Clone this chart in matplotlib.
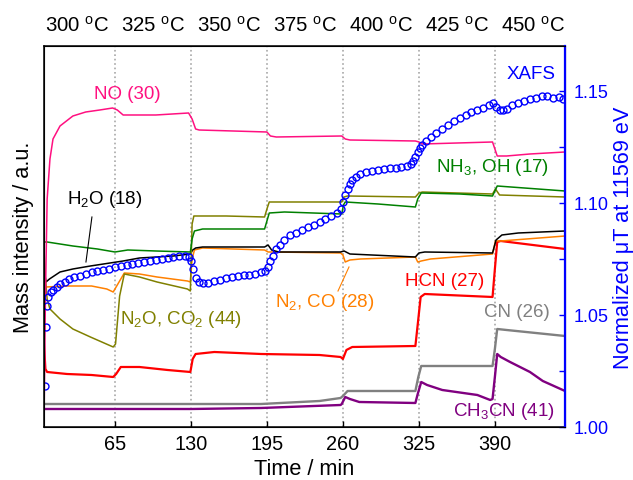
import matplotlib
matplotlib.use("Agg")
import matplotlib.pyplot as plt
from matplotlib.transforms import blended_transform_factory

plt.rcParams["font.family"] = "Liberation Sans"
plt.rcParams["mathtext.fontset"] = "custom"
plt.rcParams["mathtext.rm"] = "Liberation Sans"
plt.rcParams["mathtext.it"] = "Liberation Sans:italic"
plt.rcParams["mathtext.bf"] = "Liberation Sans:bold"

# ==========================
# Data
# ==========================
temps = [300, 325, 350, 375, 400, 425, 450]
step_times = [65, 130, 195, 260, 325, 390]

# mass signals, arbitrary units
no_t = [4.3, 5.5, 7, 9.4, 12, 18, 29, 40, 52, 63, 67, 72, 100, 128, 131, 134, 137, 195, 198, 203,
        259, 262, 266, 322, 325, 328, 388, 390, 392, 400, 420, 450]
no_v = [0.03, 1.28, 2.28, 2.68, 2.88, 3.01, 3.11, 3.15, 3.17, 3.19, 3.17, 3.12, 3.12, 3.14, 3.08, 2.98, 2.97, 2.95, 2.91, 2.90,
        2.91, 2.88, 2.87, 2.86, 2.85, 2.83, 2.85, 2.78, 2.71, 2.71, 2.73, 2.75]

nh3_t = [4.3, 7, 29, 50, 65, 76, 100, 129.5, 131, 133, 140, 193, 195, 197, 210, 259, 260.5, 262, 290,
         322, 324, 327, 360, 388, 390, 392, 450]
nh3_v = [1.85, 1.85, 1.81, 1.78, 1.75, 1.77, 1.76, 1.75, 1.88, 1.96, 1.98, 1.98, 2.06, 2.14, 2.15, 2.13, 2.22, 2.25, 2.23,
         2.20, 2.28, 2.34, 2.33, 2.31, 2.36, 2.41, 2.36]

n2o_t = [4.3, 5.5, 7, 9.4, 18, 29, 44, 63.5, 65.5, 69, 73, 86, 101, 127, 129.5, 131, 132.5, 160, 193, 195,
         197, 259, 261, 264, 322, 325, 328, 388, 390.5, 394, 450]
n2o_v = [1.78, 1.48, 1.28, 1.18, 1.08, 0.98, 0.90, 0.80, 0.83, 1.31, 1.53, 1.50, 1.45, 1.38, 1.36, 2.03, 2.11, 2.11, 2.10, 2.18,
         2.25, 2.25, 2.30, 2.31, 2.30, 2.34, 2.35, 2.33, 2.38, 2.32, 2.30]

h2o_t = [4.3, 6, 9, 18, 29, 44, 72, 86, 115, 129.5, 131.5, 134, 140, 193, 196, 199, 205, 258, 261, 266,
         322, 325, 330, 388, 391, 396, 410, 450]
h2o_v = [1.58, 1.45, 1.48, 1.55, 1.58, 1.61, 1.66, 1.69, 1.71, 1.73, 1.77, 1.79, 1.80, 1.80, 1.82, 1.77, 1.75, 1.75, 1.76, 1.73,
         1.70, 1.74, 1.75, 1.74, 1.87, 1.92, 1.94, 1.96]

n2co_t = [4.3, 6, 24, 45, 58, 63.5, 66, 69, 73, 86, 101, 127, 129.5, 131, 133, 140, 193, 196, 200, 258,
          260, 262, 266, 275, 322, 324, 327, 335, 388, 390.5, 395, 450]
n2co_v = [1.58, 1.40, 1.41, 1.41, 1.38, 1.35, 1.40, 1.46, 1.54, 1.53, 1.50, 1.46, 1.45, 1.68, 1.77, 1.79, 1.77, 1.75, 1.75, 1.74,
          1.72, 1.65, 1.67, 1.68, 1.70, 1.65, 1.66, 1.68, 1.73, 1.86, 1.86, 1.91]

hcn_t = [4.3, 5.5, 7, 24, 45, 63.5, 66, 70, 86, 110, 129.5, 131.5, 134, 150, 190, 240, 258, 260, 263, 268,
         322, 324.5, 326.5, 330, 388, 390, 392, 395, 450]
hcn_v = [0.83, 0.58, 0.55, 0.53, 0.52, 0.50, 0.53, 0.60, 0.60, 0.57, 0.55, 0.68, 0.73, 0.75, 0.73, 0.72, 0.70, 0.68, 0.77, 0.80,
         0.81, 1.08, 1.30, 1.33, 1.30, 1.58, 1.85, 1.86, 1.78]

cn_t = [4.3, 60, 130, 190, 240, 258, 260, 264, 322, 324.5, 327, 388, 390, 392, 400, 450]
cn_v = [0.23, 0.23, 0.23, 0.23, 0.26, 0.29, 0.31, 0.36, 0.36, 0.50, 0.61, 0.61, 0.78, 0.98, 0.97, 0.91]

ch3cn_t = [4.3, 130, 190, 258, 259, 262, 266, 274, 322, 324, 327, 332, 345, 375, 386, 388, 390, 392, 395, 403,
           420, 431, 450]
ch3cn_v = [0.18, 0.18, 0.19, 0.22, 0.23, 0.30, 0.28, 0.25, 0.24, 0.33, 0.45, 0.42, 0.37, 0.32, 0.27, 0.28, 0.50, 0.73, 0.70, 0.65,
           0.55, 0.46, 0.36]

# XAFS, normalized uT
xafs_t = [5.0, 5.9, 6.8, 8, 10, 12, 15, 18, 22, 26, 30, 35, 40, 45, 50, 55, 60, 65, 70, 75,
          80, 85, 90, 95, 100, 105, 110, 115, 120, 125, 128, 130, 132, 134, 137, 140, 145, 150, 155, 160,
          165, 170, 175, 180, 185, 190, 193, 196, 198, 200, 203, 206, 210, 215, 220, 225, 230, 235, 240, 245,
          250, 255, 258, 260, 262, 264, 266, 268, 271, 275, 280, 285, 290, 295, 300, 305, 310, 315, 318, 320,
          322, 324, 326, 328, 331, 335, 340, 345, 350, 355, 360, 365, 370, 375, 380, 385, 388, 391, 394, 397,
          400, 405, 410, 415, 420, 425, 430, 435, 440, 445, 448]
xafs_v = [1.0183, 1.0447, 1.0540, 1.0580, 1.0603, 1.0612, 1.0625, 1.0639, 1.0647, 1.0661,
          1.0670, 1.0674, 1.0683, 1.0692, 1.0696, 1.0701, 1.0705, 1.0714, 1.0719, 1.0723,
          1.0728, 1.0732, 1.0737, 1.0741, 1.0746, 1.0750, 1.0754, 1.0759, 1.0763, 1.0763,
          1.0759, 1.0741, 1.0705, 1.0665, 1.0647, 1.0643, 1.0643, 1.0652, 1.0656, 1.0665,
          1.0670, 1.0674, 1.0679, 1.0679, 1.0683, 1.0692, 1.0696, 1.0714, 1.0741, 1.0763,
          1.0795, 1.0812, 1.0835, 1.0857, 1.0866, 1.0879, 1.0893, 1.0902, 1.0915, 1.0928,
          1.0942, 1.0955, 1.0973, 1.1004, 1.1035, 1.1062, 1.1085, 1.1102, 1.1116, 1.1129,
          1.1138, 1.1142, 1.1147, 1.1151, 1.1156, 1.1156, 1.1160, 1.1165, 1.1174, 1.1187,
          1.1205, 1.1227, 1.1245, 1.1258, 1.1276, 1.1294, 1.1312, 1.1330, 1.1348, 1.1365,
          1.1379, 1.1392, 1.1406, 1.1415, 1.1423, 1.1437, 1.1446, 1.1428, 1.1415, 1.1415,
          1.1419, 1.1437, 1.1446, 1.1455, 1.1464, 1.1468, 1.1477, 1.1477, 1.1468, 1.1473,
          1.1464]

# ==========================
# Figure
# ==========================
fig, ax = plt.subplots(figsize=(6.33, 4.81), dpi=100)
fig.subplots_adjust(left=0.0695, right=0.8926, bottom=0.1102, top=0.9023)

for t in step_times:
    ax.axvline(t, color="#a8a8a8", ls=":", lw=1.2, zorder=0)

ax.plot(cn_t, cn_v, color="#808080", lw=1.7)
ax.plot(ch3cn_t, ch3cn_v, color="#800080", lw=1.7)
ax.plot(hcn_t, hcn_v, color="#ff0000", lw=1.6)
ax.plot(n2co_t, n2co_v, color="#ff8000", lw=1.1)
ax.plot(h2o_t, h2o_v, color="black", lw=1.1)
ax.plot(n2o_t, n2o_v, color="#808000", lw=1.1)
ax.plot(nh3_t, nh3_v, color="#008000", lw=1.1)
ax.plot(no_t, no_v, color="#ff1080", lw=1.1)

ax.set_xlim(4.3, 450)
ax.set_ylim(0, 3.81)
ax.set_xticks(step_times)
ax.set_yticks([])
ax.tick_params(axis="x", direction="in", length=4, width=1, labelsize=14.3, pad=5)
ax.set_xlabel("Time / min", fontsize=15.7)
ax.set_ylabel("Mass intensity / a.u.", fontsize=15.7, labelpad=7)
for s in ["left", "top", "bottom"]:
    ax.spines[s].set_linewidth(1.1)

# temperature labels above the plot
trans = blended_transform_factory(ax.transData, ax.transAxes)
for i, temp in enumerate(temps):
    ax.text(32.5 + 65 * i, 1.056, f"{temp} $^{{\\mathrm{{o}}}}$C", transform=trans,
            ha="center", va="center", fontsize=14.7)

# labels for each signal
fs = 13.5
ax.text(75.3, 3.33, "NO (30)", color="#ff1080", fontsize=fs, ha="center", va="center")
ax.text(56.5, 2.28, "H$_2$O (18)", color="black", fontsize=fs, ha="center", va="center")
ax.plot([45.3, 40.2], [2.10, 1.65], color="black", lw=0.8)
ax.text(121.5, 1.08, "N$_2$O, CO$_2$ (44)", color="#808000", fontsize=fs, ha="center", va="center")
ax.text(244.7, 1.25, "N$_2$, CO (28)", color="#ff8000", fontsize=fs, ha="center", va="center")
ax.plot([265.2, 255.8], [1.60, 1.36], color="#ff8000", lw=0.8)
ax.text(347.3, 1.46, "HCN (27)", color="#ff0000", fontsize=fs, ha="center", va="center")
ax.text(408.9, 1.15, "CN (26)", color="#808080", fontsize=fs, ha="center", va="center")
ax.text(397.8, 0.16, "CH$_3$CN (41)", color="#800080", fontsize=fs, ha="center", va="center")
ax.text(388.4, 2.60, "NH$_3$, OH (17)", color="#008000", fontsize=fs, ha="center", va="center")
ax.text(420.9, 3.53, "XAFS", color="blue", fontsize=fs, ha="center", va="center")

# XAFS on the right axis
ax2 = ax.twinx()
ax2.plot(xafs_t, xafs_v, "o", mfc="none", mec="blue", ms=5.0, mew=1.0)
ax2.set_ylim(1.0, 1.17)
ax2.set_yticks([1.00, 1.05, 1.10, 1.15])
ax2.set_yticks([1.025, 1.075, 1.125], minor=True)
ax2.yaxis.set_major_formatter("{x:.2f}")
ax2.tick_params(axis="y", which="both", direction="in", colors="blue", length=4, width=1,
                labelsize=13, pad=6)
ax2.spines["right"].set_color("blue")
ax2.spines["right"].set_linewidth(1.6)
ax2.set_ylabel("Normalized \u03bcT at 11569 eV", color="blue", fontsize=15.7, labelpad=3)

fig.savefig("out.png", dpi=100)
